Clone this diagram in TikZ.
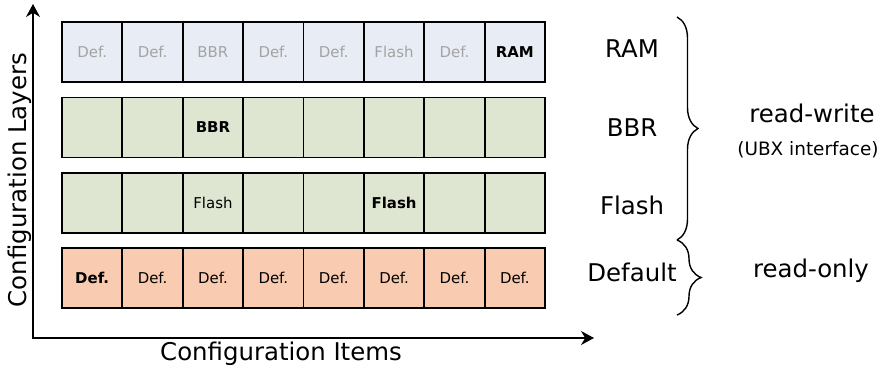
\documentclass[tikz,border=0pt]{standalone}
\usepackage{fontspec}
\setmainfont{DejaVu Sans}
\usetikzlibrary{decorations.pathreplacing,arrows.meta}
\definecolor{ramfill}{HTML}{E8ECF4}
\definecolor{greenfill}{HTML}{DEE6D2}
\definecolor{deffill}{HTML}{F9CBB0}
\definecolor{greytext}{HTML}{A3A3A3}
\newcommand\gry{\color{greytext}}
\begin{document}
\begin{tikzpicture}[x=1bp,y=-1bp,
  cell/.style={draw=black, line width=1.9bp, minimum width=60.375bp, minimum height=60bp,
    inner sep=0pt, anchor=center, font=\fontsize{15}{17}\selectfont},
  big/.style={font=\fontsize{24.5}{28}\selectfont, inner sep=0pt},
  small/.style={font=\fontsize{18.5}{21}\selectfont, inner sep=0pt},
  axis/.style={line width=1.4bp, {Stealth[length=13bp,width=14bp]}-{Stealth[length=13bp,width=14bp]}},
  bracestyle/.style={draw, line width=1.4bp, decorate}
]
\useasboundingbox (0,0) rectangle (884,370);
% rows
\foreach \t [count=\i] in {{\gry Def.},{\gry Def.},{\gry BBR},{\gry Def.},{\gry Def.},{\gry Flash},{\gry Def.},{\bfseries RAM}}
  \node[cell, fill=ramfill] (r1c\i) at ({62+60.375*(\i-0.5)},52) {\t};
\foreach \t [count=\i] in {{},{},{\bfseries BBR},{},{},{},{},{}}
  \node[cell, fill=greenfill] (r2c\i) at ({62+60.375*(\i-0.5)},127.5) {\t};
\foreach \t [count=\i] in {{},{},{Flash},{},{},{\bfseries Flash},{},{}}
  \node[cell, fill=greenfill] (r3c\i) at ({62+60.375*(\i-0.5)},203) {\t};
\foreach \t [count=\i] in {{\bfseries Def.},{Def.},{Def.},{Def.},{Def.},{Def.},{Def.},{Def.}}
  \node[cell, fill=deffill] (r4c\i) at ({62+60.375*(\i-0.5)},278) {\t};
% axes
\coordinate (ytip) at (33,4);
\coordinate (origin) at (33,338);
\coordinate (xtip) at (594,338);
\draw[axis] (ytip) -- (origin) -- (xtip);
\node[big, rotate=90] (ylab) at (20,180) {Configuration Layers};
\node[big] (xlab) at (281,354) {Configuration Items};
% layer labels
\node[big] (lram) at (632,49) {RAM};
\node[big] (lbbr) at (632,128) {BBR};
\node[big] (lflash) at (632,205) {Flash};
\node[big] (ldef) at (632,272) {Default};
% braces
\coordinate (b1top) at (677,17);
\coordinate (b1bot) at (677,240);
\coordinate (b2top) at (677,240);
\coordinate (b2bot) at (677,315);
\draw[bracestyle, decoration={brace, amplitude=21bp}] (b1top) -- (b1bot);
\draw[bracestyle, decoration={brace, amplitude=24bp}] (b2top) -- (b2bot);
\node[big] (rw) at (812,113) {read-write};
\node[small] (ubx) at (808,150) {(UBX interface)};
\node[big] (ro) at (811,271) {read-only};
\end{tikzpicture}
\end{document}
